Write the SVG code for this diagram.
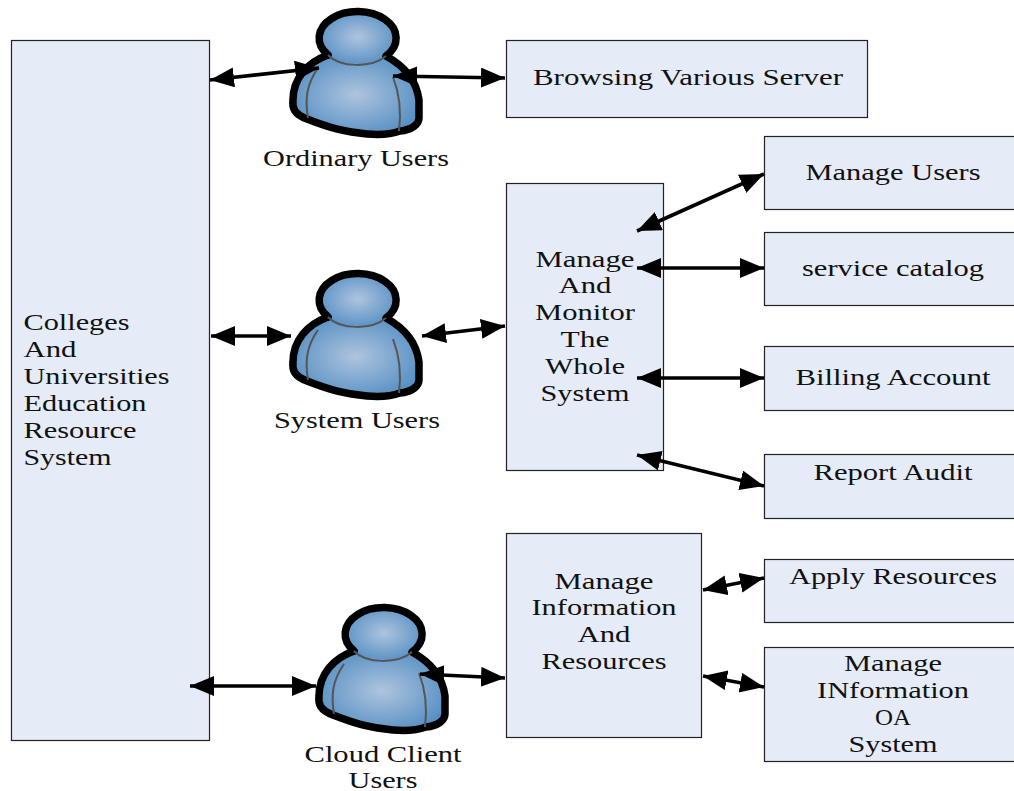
<svg xmlns="http://www.w3.org/2000/svg" width="1014" height="791" viewBox="0 0 1014 791">
<style>
.box{fill:#e6ecf7;stroke:#222;stroke-width:1.2}
text{font-family:"Liberation Serif","Times New Roman",serif;font-size:24px;fill:#111;text-anchor:middle}
.l{text-anchor:start}
.c{fill:none;stroke:#000;stroke-width:3.6;marker-start:url(#a);marker-end:url(#a)}
.f{fill:url(#g);stroke:none}
.o{fill:none;stroke:#000;stroke-width:7.500;stroke-linejoin:round;stroke-linecap:round}
.h{fill:none;stroke:#555;stroke-width:2}
</style>
<defs>
<marker id="a" markerUnits="userSpaceOnUse" markerWidth="26" markerHeight="22" refX="24" refY="10" orient="auto-start-reverse"><path d="M0 0L24 10L0 20Z" fill="#000"/></marker>
<radialGradient id="g" cx="50%" cy="50%" r="62%"><stop offset="0" stop-color="#aec4de"/><stop offset="1" stop-color="#4d8ac1"/></radialGradient>
<g id="user">
<path class="f" d="M328 55C308 62 293 78 293 100C292 108 294 114 307 119C330 128 345 132 367 134C380 135 392 134 400 131C412 130 419 124 419 118V100C417 84 408 68 386 56Z"/>
<ellipse class="f" cx="358" cy="37" rx="38.500" ry="26.500"/>
<path class="o" d="M328 55C308 62 293 78 293 100C292 108 294 114 307 119C330 128 345 132 367 134C380 135 392 134 400 131C412 130 419 124 419 118V100C417 84 408 68 386 56A38.500 26.500 0 1 0 328 55"/>
<path class="h" d="M328 55C340 68 372 68 386 56M318 68C306 85 305 100 308 118M393 77C400 95 401 115 399 131"/>
</g>
</defs>
<g id="system"><rect class="box" x="11.500" y="40.500" width="198" height="700"/>
<text class="l" x="23.500" y="330" textLength="106" lengthAdjust="spacingAndGlyphs">Colleges</text>
<text class="l" x="23.500" y="357" textLength="53" lengthAdjust="spacingAndGlyphs">And</text>
<text class="l" x="23.500" y="384" textLength="146" lengthAdjust="spacingAndGlyphs">Universities</text>
<text class="l" x="23.500" y="411" textLength="123" lengthAdjust="spacingAndGlyphs">Education</text>
<text class="l" x="23.500" y="438" textLength="113" lengthAdjust="spacingAndGlyphs">Resource</text>
<text class="l" x="23.500" y="465" textLength="88" lengthAdjust="spacingAndGlyphs">System</text></g>
<g id="ordinary-users"><use href="#user"/><text x="356" y="166" textLength="186" lengthAdjust="spacingAndGlyphs">Ordinary Users</text></g>
<g id="system-users"><use href="#user" y="262"/><text x="357" y="428" textLength="166" lengthAdjust="spacingAndGlyphs">System Users</text></g>
<g id="cloud-users"><use href="#user" x="26" y="596"/><text x="383" y="762" textLength="157" lengthAdjust="spacingAndGlyphs">Cloud Client</text><text x="383" y="788" textLength="69" lengthAdjust="spacingAndGlyphs">Users</text></g>
<g id="browsing"><rect class="box" x="506.500" y="40.500" width="361" height="77"/><text x="688" y="85" textLength="310" lengthAdjust="spacingAndGlyphs">Browsing Various Server</text></g>
<g id="monitor"><rect class="box" x="506.500" y="183.500" width="157" height="287"/>
<text x="585" y="267" textLength="99" lengthAdjust="spacingAndGlyphs">Manage</text>
<text x="585" y="293" textLength="53" lengthAdjust="spacingAndGlyphs">And</text>
<text x="585" y="320" textLength="100" lengthAdjust="spacingAndGlyphs">Monitor</text>
<text x="585" y="347" textLength="49" lengthAdjust="spacingAndGlyphs">The</text>
<text x="585" y="374" textLength="80" lengthAdjust="spacingAndGlyphs">Whole</text>
<text x="585" y="401" textLength="89" lengthAdjust="spacingAndGlyphs">System</text></g>
<g id="manage-users"><rect class="box" x="764.500" y="136.500" width="252" height="73"/><text x="893" y="180" textLength="175" lengthAdjust="spacingAndGlyphs">Manage Users</text></g>
<g id="service-catalog"><rect class="box" x="764.500" y="232.500" width="252" height="73"/><text x="893" y="276" textLength="182" lengthAdjust="spacingAndGlyphs">service catalog</text></g>
<g id="billing"><rect class="box" x="764.500" y="346.500" width="252" height="64"/><text x="893" y="385" textLength="195" lengthAdjust="spacingAndGlyphs">Billing Account</text></g>
<g id="report"><rect class="box" x="764.500" y="454.500" width="252" height="64"/><text x="893" y="480" textLength="159" lengthAdjust="spacingAndGlyphs">Report Audit</text></g>
<g id="resources"><rect class="box" x="506.500" y="533.500" width="195" height="204"/>
<text x="604" y="589" textLength="99" lengthAdjust="spacingAndGlyphs">Manage</text>
<text x="604" y="615" textLength="145" lengthAdjust="spacingAndGlyphs">Information</text>
<text x="604" y="642" textLength="53" lengthAdjust="spacingAndGlyphs">And</text>
<text x="604" y="669" textLength="125" lengthAdjust="spacingAndGlyphs">Resources</text></g>
<g id="apply"><rect class="box" x="764.500" y="559.500" width="252" height="63"/><text x="893" y="584" textLength="208" lengthAdjust="spacingAndGlyphs">Apply Resources</text></g>
<g id="oa"><rect class="box" x="764.500" y="647.500" width="252" height="114"/>
<text x="893" y="671" textLength="98" lengthAdjust="spacingAndGlyphs">Manage</text>
<text x="893" y="698" textLength="152" lengthAdjust="spacingAndGlyphs">INformation</text>
<text x="893" y="725" textLength="36" lengthAdjust="spacingAndGlyphs">OA</text>
<text x="893" y="752" textLength="89" lengthAdjust="spacingAndGlyphs">System</text></g>
<g id="connectors">
<path class="c" d="M210 80L319 68"/>
<path class="c" d="M393 76L505 78"/>
<path class="c" d="M211 336H291"/>
<path class="c" d="M422 336L505 326"/>
<path class="c" d="M637 231L764 174"/>
<path class="c" d="M637 268H764"/>
<path class="c" d="M637 378H764"/>
<path class="c" d="M637 455L764 486"/>
<path class="c" d="M190 686H316"/>
<path class="c" d="M420 674L505 678"/>
<path class="c" d="M703 590L764 578"/>
<path class="c" d="M703 676L764 687"/>
</g>
</svg>
